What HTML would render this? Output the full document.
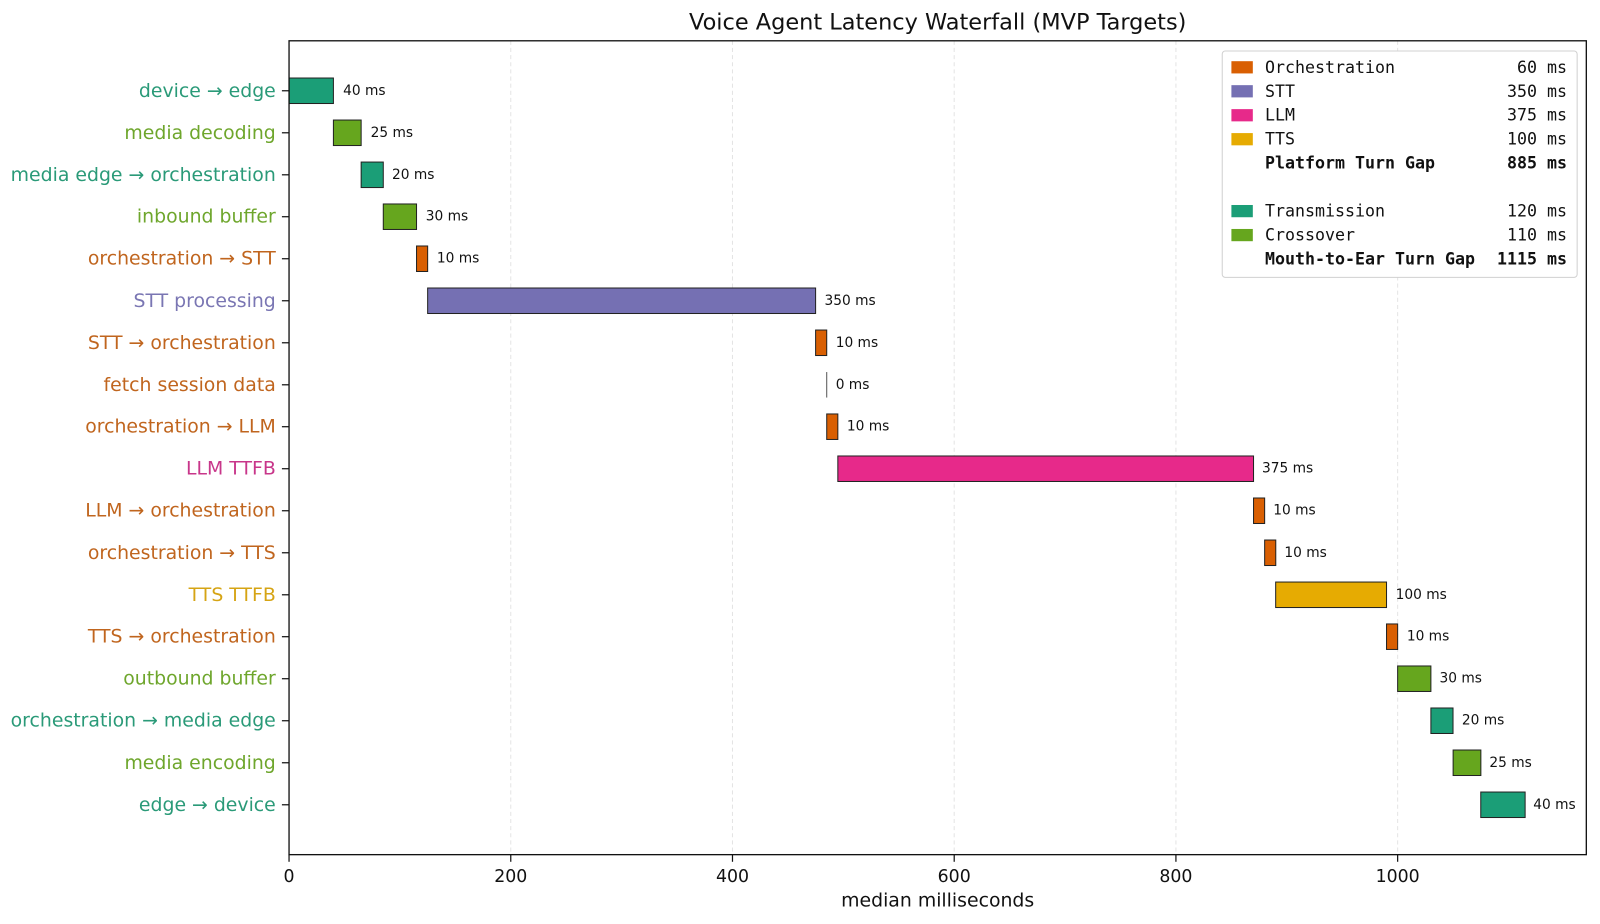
<!DOCTYPE html>
<html><head><meta charset="utf-8"><style>html,body{margin:0;padding:0;background:#fff}svg{display:block}</style></head>
<body>
<svg width="1600" height="924" viewBox="0 0 1568 906" xmlns="http://www.w3.org/2000/svg" font-family="'DejaVu Sans','Liberation Sans',sans-serif">
<rect width="1568" height="906" fill="#fff"/>
<text x="919" y="29" font-size="22" text-anchor="middle" fill="#111">Voice Agent Latency Waterfall (MVP Targets)</text>
<g stroke="#e4e4e4" stroke-dasharray="4,3" stroke-width="1">
<line x1="500.4" y1="40" x2="500.4" y2="838"/><line x1="717.8" y1="40" x2="717.8" y2="838"/><line x1="935.2" y1="40" x2="935.2" y2="838"/><line x1="1152.6" y1="40" x2="1152.6" y2="838"/><line x1="1370" y1="40" x2="1370" y2="838"/>
</g>
<g stroke="#222" stroke-width="1">
<rect x="283" y="76.5" width="43.5" height="25" fill="#1b9e77"/>
<rect x="326.5" y="117.7" width="27.2" height="25" fill="#66a61e"/>
<rect x="353.7" y="158.9" width="21.7" height="25" fill="#1b9e77"/>
<rect x="375.4" y="200" width="32.6" height="25" fill="#66a61e"/>
<rect x="408" y="241.2" width="10.9" height="25" fill="#d95f02"/>
<rect x="418.9" y="282.4" width="380.4" height="25" fill="#7570b3"/>
<rect x="799.3" y="323.6" width="10.9" height="25" fill="#d95f02"/>
<line x1="810.2" y1="364.8" x2="810.2" y2="389.8" stroke="#555"/>
<rect x="810.2" y="405.9" width="10.9" height="25" fill="#d95f02"/>
<rect x="821.1" y="447.1" width="407.6" height="25" fill="#e7298a"/>
<rect x="1228.7" y="488.3" width="10.9" height="25" fill="#d95f02"/>
<rect x="1239.6" y="529.5" width="10.9" height="25" fill="#d95f02"/>
<rect x="1250.4" y="570.7" width="108.7" height="25" fill="#e6ab02"/>
<rect x="1359.1" y="611.8" width="10.9" height="25" fill="#d95f02"/>
<rect x="1370" y="653" width="32.6" height="25" fill="#66a61e"/>
<rect x="1402.6" y="694.2" width="21.7" height="25" fill="#1b9e77"/>
<rect x="1424.4" y="735.4" width="27.2" height="25" fill="#66a61e"/>
<rect x="1451.5" y="776.6" width="43.5" height="25" fill="#1b9e77"/>
</g>
<g font-size="13.5" fill="#111" dominant-baseline="central">
<text x="336" y="89">40 ms</text><text x="363" y="130.2">25 ms</text><text x="384" y="171.4">20 ms</text><text x="417" y="212.5">30 ms</text><text x="428" y="253.7">10 ms</text><text x="808" y="294.9">350 ms</text><text x="819" y="336.1">10 ms</text><text x="819" y="377.3">0 ms</text><text x="830" y="418.4">10 ms</text><text x="1237" y="459.6">375 ms</text><text x="1248" y="500.8">10 ms</text><text x="1259" y="542">10 ms</text><text x="1368" y="583.2">100 ms</text><text x="1379" y="624.3">10 ms</text><text x="1411" y="665.5">30 ms</text><text x="1433" y="706.7">20 ms</text><text x="1460" y="747.9">25 ms</text><text x="1503" y="789.1">40 ms</text>
</g>
<g font-size="18.5" text-anchor="end" dominant-baseline="central">
<text x="270" y="89" fill="#2a9a78">device → edge</text>
<text x="270" y="130.2" fill="#6ea62c">media decoding</text>
<text x="270" y="171.4" fill="#2a9a78">media edge → orchestration</text>
<text x="270" y="212.5" fill="#6ea62c">inbound buffer</text>
<text x="270" y="253.7" fill="#c0651e">orchestration → STT</text>
<text x="270" y="294.9" fill="#7a76b3">STT processing</text>
<text x="270" y="336.1" fill="#c0651e">STT → orchestration</text>
<text x="270" y="377.3" fill="#c0651e">fetch session data</text>
<text x="270" y="418.4" fill="#c0651e">orchestration → LLM</text>
<text x="270" y="459.6" fill="#c8368a">LLM TTFB</text>
<text x="270" y="500.8" fill="#c0651e">LLM → orchestration</text>
<text x="270" y="542" fill="#c0651e">orchestration → TTS</text>
<text x="270" y="583.2" fill="#d6a414">TTS TTFB</text>
<text x="270" y="624.3" fill="#c0651e">TTS → orchestration</text>
<text x="270" y="665.5" fill="#6ea62c">outbound buffer</text>
<text x="270" y="706.7" fill="#2a9a78">orchestration → media edge</text>
<text x="270" y="747.9" fill="#6ea62c">media encoding</text>
<text x="270" y="789.1" fill="#2a9a78">edge → device</text>
</g>
<g stroke="#111" stroke-width="1.2">
<line x1="276" y1="89" x2="283" y2="89"/><line x1="276" y1="130.2" x2="283" y2="130.2"/><line x1="276" y1="171.4" x2="283" y2="171.4"/><line x1="276" y1="212.5" x2="283" y2="212.5"/><line x1="276" y1="253.7" x2="283" y2="253.7"/><line x1="276" y1="294.9" x2="283" y2="294.9"/><line x1="276" y1="336.1" x2="283" y2="336.1"/><line x1="276" y1="377.3" x2="283" y2="377.3"/><line x1="276" y1="418.4" x2="283" y2="418.4"/><line x1="276" y1="459.6" x2="283" y2="459.6"/><line x1="276" y1="500.8" x2="283" y2="500.8"/><line x1="276" y1="542" x2="283" y2="542"/><line x1="276" y1="583.2" x2="283" y2="583.2"/><line x1="276" y1="624.3" x2="283" y2="624.3"/><line x1="276" y1="665.5" x2="283" y2="665.5"/><line x1="276" y1="706.7" x2="283" y2="706.7"/><line x1="276" y1="747.9" x2="283" y2="747.9"/><line x1="276" y1="789.1" x2="283" y2="789.1"/>
<line x1="283" y1="838" x2="283" y2="845"/><line x1="500.4" y1="838" x2="500.4" y2="845"/><line x1="717.8" y1="838" x2="717.8" y2="845"/><line x1="935.2" y1="838" x2="935.2" y2="845"/><line x1="1152.6" y1="838" x2="1152.6" y2="845"/><line x1="1370" y1="838" x2="1370" y2="845"/>
</g>
<rect x="283" y="40" width="1272" height="798" fill="none" stroke="#111" stroke-width="1.3"/>
<g font-size="17" text-anchor="middle" fill="#111">
<text x="283" y="865">0</text><text x="500.4" y="865">200</text><text x="717.8" y="865">400</text><text x="935.2" y="865">600</text><text x="1152.6" y="865">800</text><text x="1370" y="865">1000</text>
<text x="919" y="889" font-size="18.5">median milliseconds</text>
</g>
<rect x="1198" y="50" width="348" height="222" rx="3" fill="#fff" stroke="#d0d0d0" stroke-width="1"/>
<g>
<rect x="1207" y="60" width="21" height="12" fill="#d95f02"/>
<rect x="1207" y="83.5" width="21" height="12" fill="#7570b3"/>
<rect x="1207" y="107" width="21" height="12" fill="#e7298a"/>
<rect x="1207" y="130.5" width="21" height="12" fill="#e6ab02"/>
<rect x="1207" y="201" width="21" height="12" fill="#1b9e77"/>
<rect x="1207" y="224.5" width="21" height="12" fill="#66a61e"/>
</g>
<g font-family="'DejaVu Sans Mono','Liberation Mono',monospace" font-size="16.3" fill="#111" dominant-baseline="central">
<text x="1240" y="66">Orchestration</text><text x="1536" y="66" text-anchor="end">60 ms</text>
<text x="1240" y="89.5">STT</text><text x="1536" y="89.5" text-anchor="end">350 ms</text>
<text x="1240" y="113">LLM</text><text x="1536" y="113" text-anchor="end">375 ms</text>
<text x="1240" y="136.5">TTS</text><text x="1536" y="136.5" text-anchor="end">100 ms</text>
<text x="1240" y="160" font-weight="bold">Platform Turn Gap</text><text x="1536" y="160" text-anchor="end" font-weight="bold">885 ms</text>
<text x="1240" y="207">Transmission</text><text x="1536" y="207" text-anchor="end">120 ms</text>
<text x="1240" y="230.5">Crossover</text><text x="1536" y="230.5" text-anchor="end">110 ms</text>
<text x="1240" y="254" font-weight="bold">Mouth-to-Ear Turn Gap</text><text x="1536" y="254" text-anchor="end" font-weight="bold">1115 ms</text>
</g>
</svg>
</body></html>
